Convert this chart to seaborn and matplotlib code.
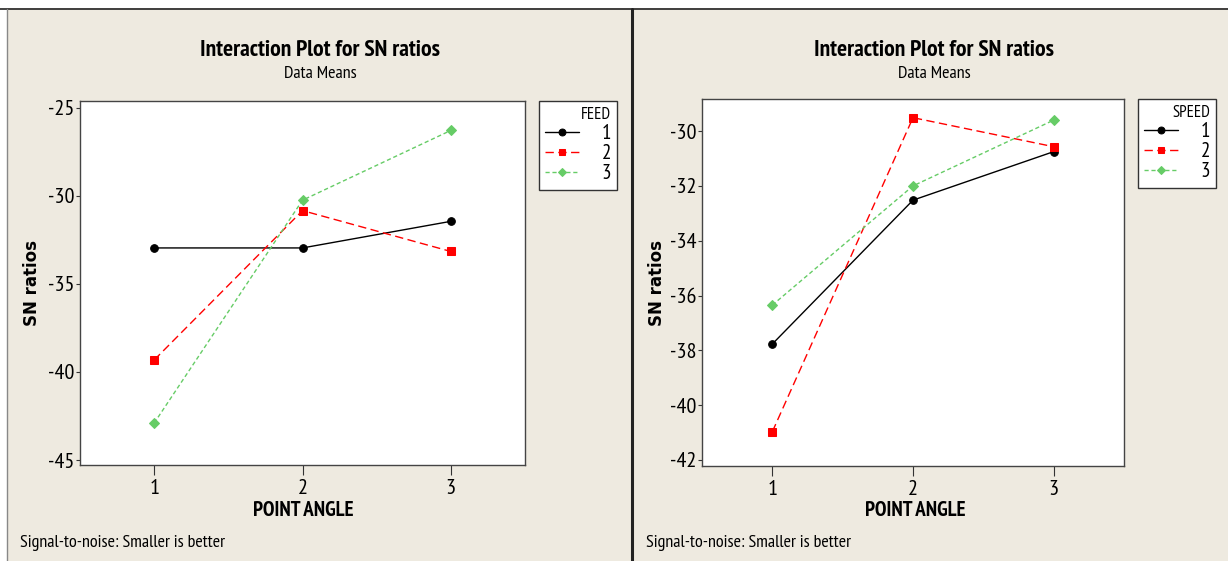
import matplotlib
matplotlib.use("Agg")
import matplotlib.pyplot as plt
from matplotlib.patches import Rectangle
from matplotlib.lines import Line2D
import seaborn as sns
import pandas as pd

# Factor levels along the x axis
point_angle = [1, 2, 3]
levels = ["1", "2", "3"]

# Mean SN ratios for each FEED level across POINT ANGLE
feed_1 = [-32.96, -32.96, -31.45]
feed_2 = [-39.32, -30.84, -33.16]
feed_3 = [-42.90, -30.25, -26.29]

# Mean SN ratios for each SPEED level across POINT ANGLE
speed_1 = [-37.77, -32.52, -30.75]
speed_2 = [-40.97, -29.51, -30.57]
speed_3 = [-36.35, -32.00, -29.60]

left_yticks = [-25, -30, -35, -40, -45]
right_yticks = [-30, -32, -34, -36, -38, -40, -42]

sns.set_theme(style="white")
plt.rcParams["font.family"] = ["PT Sans Narrow", "DejaVu Sans"]
plt.rcParams["text.color"] = "black"
plt.rcParams["xtick.color"] = "black"
plt.rcParams["ytick.color"] = "black"

BG = "#EEEAE0"
colors = {"1": "#000000", "2": "#FF0000", "3": "#66CC66"}
markers = {"1": "o", "2": "s", "3": "D"}
dashes = {"1": "", "2": (6, 3.2), "3": (3, 2)}


def long_frame(series, factor):
    rows = []
    for lvl, vals in zip(levels, series):
        for x, v in zip(point_angle, vals):
            rows.append({"POINT ANGLE": x, "SN ratios": v, factor: lvl})
    return pd.DataFrame(rows)


fig = plt.figure(figsize=(12.28, 5.61), dpi=100, facecolor=BG)
W, H = 1228, 561

# white margin and frame lines of the graph windows
fig.patches.append(Rectangle((0, 1 - 8 / H), 1, 8 / H, transform=fig.transFigure,
                             facecolor="white", edgecolor="none", zorder=0))
fig.patches.append(Rectangle((0, 0), 6.5 / W, 1, transform=fig.transFigure,
                             facecolor="white", edgecolor="none", zorder=0))
fig.add_artist(Line2D([0, 1], [1 - 8.5 / H] * 2, transform=fig.transFigure,
                      color="#222222", lw=1.2))
fig.add_artist(Line2D([7 / W] * 2, [0, 1 - 8.5 / H], transform=fig.transFigure,
                      color="#888888", lw=1.0))
fig.add_artist(Line2D([632 / W] * 2, [0, 1 - 8.5 / H], transform=fig.transFigure,
                      color="#222222", lw=2.2))

panels = [
    dict(rect=[80 / W, 1 - 465 / H, 445 / W, 364 / H], factor="FEED",
         data=[feed_1, feed_2, feed_3], ylim=(-45.28, -24.62), yticks=left_yticks,
         cx=320, ylab_x=32, xlab_x=303, foot_x=20,
         leg=(539, 101)),
    dict(rect=[702 / W, 1 - 465.7 / H, 422 / W, 366.4 / H], factor="SPEED",
         data=[speed_1, speed_2, speed_3], ylim=(-42.21, -28.84), yticks=right_yticks,
         cx=934, ylab_x=657, xlab_x=915, foot_x=646,
         leg=(1138, 99)),
]

for p in panels:
    ax = fig.add_axes(p["rect"])
    ax.set_facecolor("white")
    df = long_frame(p["data"], p["factor"])
    sns.lineplot(data=df, x="POINT ANGLE", y="SN ratios", hue=p["factor"],
                 style=p["factor"], palette=colors, markers=markers, dashes=dashes,
                 hue_order=levels, style_order=levels, markersize=5.5, lw=1.0,
                 legend=False, ax=ax)
    for ln in ax.lines:
        ln.set_markeredgecolor(ln.get_color())
        ln.set_markerfacecolor(ln.get_color())
    for ln in ax.lines[2:3]:
        ln.set_markersize(5.0)

    ax.set_xlim(0.5, 3.5)
    ax.set_ylim(*p["ylim"])
    ax.set_xticks(point_angle)
    ax.set_xticklabels([str(v) for v in point_angle])
    ax.set_yticks(p["yticks"])
    ax.set_yticklabels([str(v) for v in p["yticks"]])
    ax.tick_params(axis="x", direction="out", length=7, width=0.8, color="#333333",
                   labelsize=16, pad=3, bottom=True)
    ax.tick_params(axis="y", direction="out", length=3, width=0.8, color="#333333",
                   labelsize=16, pad=1, left=True)
    for s in ax.spines.values():
        s.set_color("#444444")
        s.set_linewidth(1.0)
    ax.set_xlabel("")
    ax.set_ylabel("")

    fig.text(p["ylab_x"] / W, 1 - 283 / H, "SN ratios", rotation=90, ha="center",
             va="center", fontsize=12, fontweight="bold", family=["DejaVu Sans"])
    fig.text(p["xlab_x"] / W, 1 - 511 / H, "POINT ANGLE", ha="center", va="center",
             fontsize=15, fontweight="bold")
    fig.text(p["cx"] / W, 1 - 50 / H, "Interaction Plot for SN ratios", ha="center",
             va="center", fontsize=17, fontweight="bold")
    fig.text(p["cx"] / W, 1 - 74.5 / H, "Data Means", ha="center", va="center",
             fontsize=13)
    fig.text(p["foot_x"] / W, 1 - 543 / H, "Signal-to-noise: Smaller is better",
             ha="left", va="center", fontsize=13)

    leg = ax.legend(ax.lines[:3], levels, title=p["factor"], loc="upper left",
                    bbox_to_anchor=(p["leg"][0] / W, 1 - p["leg"][1] / H),
                    bbox_transform=fig.transFigure, borderaxespad=0, frameon=True,
                    fancybox=False, edgecolor="#333333", facecolor="white",
                    framealpha=1, fontsize=15, title_fontsize=12, handlelength=1.6,
                    handletextpad=1.1, labelspacing=0.05, borderpad=0.3,
                    markerscale=0.9, alignment="right")
    leg.get_frame().set_linewidth(1.0)

fig.savefig("out.png", dpi=100, facecolor=BG)
